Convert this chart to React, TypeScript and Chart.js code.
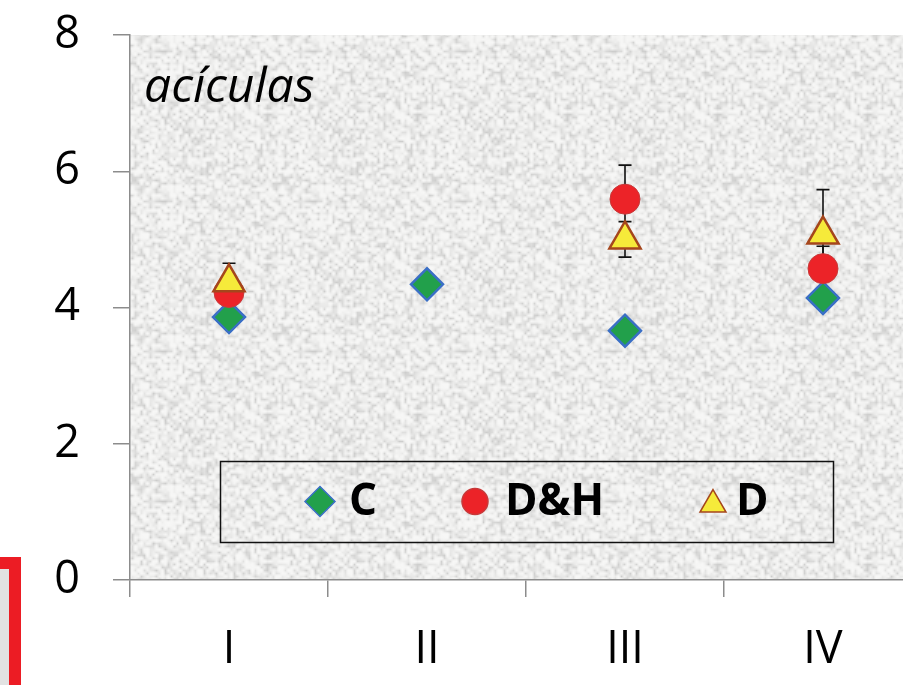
import React, { useEffect, useRef } from 'react';
import { Chart, registerables } from 'chart.js';
import { drawPoint } from 'chart.js/helpers';

Chart.register(...registerables);

const categories = ['I', 'II', 'III', 'IV'];
const yTicks = [0, 2, 4, 6, 8];
const seriesLabels = ['C', 'D&H', 'D'];
const valuesC = [3.86, 4.34, 3.66, 4.14];
const valuesDH = [4.22, null, 5.59, 4.57];
const valuesD = [4.37, null, 5.0, 5.07];
const errorsC = [0, 0, 0, 0];
const errorsDH = [0, 0, 0.5, 0.33];
const errorsD = [0.28, 0, 0.26, 0.66];
const panelLabel = 'acículas';

const FONT = '"Open Sans", "DejaVu Sans", sans-serif';

function hash(x: number, y: number): number {
  const s = Math.sin(x * 12.9898 + y * 78.233) * 43758.5453;
  return s - Math.floor(s);
}

function makeTexture(): HTMLCanvasElement {
  const N = 150;
  const cell = 3;
  const c = document.createElement('canvas');
  c.width = N;
  c.height = N;
  const g = c.getContext('2d')!;
  const img = g.createImageData(N, N);
  const G = N / cell;
  for (let y = 0; y < N; y++) {
    for (let x = 0; x < N; x++) {
      const gx = x / cell, gy = y / cell;
      const x0 = Math.floor(gx), y0 = Math.floor(gy);
      const fx = gx - x0, fy = gy - y0;
      const a = hash(x0 % G, y0 % G), b = hash((x0 + 1) % G, y0 % G);
      const c2 = hash(x0 % G, (y0 + 1) % G), d = hash((x0 + 1) % G, (y0 + 1) % G);
      const n = (a * (1 - fx) + b * fx) * (1 - fy) + (c2 * (1 - fx) + d * fx) * fy;
      const v = Math.round(247 - n * n * 42);
      const i = (y * N + x) * 4;
      img.data[i] = v;
      img.data[i + 1] = v;
      img.data[i + 2] = v - 1;
      img.data[i + 3] = 255;
    }
  }
  g.putImageData(img, 0, 0);
  return c;
}

const bgPlugin = {
  id: 'plotBg',
  beforeDraw(chart: any) {
    const { ctx, chartArea: a } = chart;
    ctx.save();
    const pat = ctx.createPattern(makeTexture(), 'repeat');
    ctx.fillStyle = pat || '#e9e9e9';
    ctx.fillRect(a.left, a.top, a.right - a.left, a.bottom - a.top);
    ctx.restore();
  },
};

const errorBarPlugin = {
  id: 'errorBars',
  beforeDatasetsDraw(chart: any) {
    const { ctx } = chart;
    const y = chart.scales.y;
    ctx.save();
    ctx.strokeStyle = '#111';
    ctx.lineWidth = 1.6;
    chart.data.datasets.forEach((ds: any, di: number) => {
      const meta = chart.getDatasetMeta(di);
      ds.data.forEach((v: number | null, i: number) => {
        const e = ds.errors ? ds.errors[i] : 0;
        if (v == null || !e) return;
        const px = meta.data[i].x;
        const yt = y.getPixelForValue(v + e);
        const yb = y.getPixelForValue(v - e);
        ctx.beginPath();
        ctx.moveTo(px, yt);
        ctx.lineTo(px, yb);
        ctx.moveTo(px - 6.5, yt);
        ctx.lineTo(px + 6.5, yt);
        ctx.moveTo(px - 6.5, yb);
        ctx.lineTo(px + 6.5, yb);
        ctx.stroke();
      });
    });
    ctx.restore();
  },
};

const panelLabelPlugin = {
  id: 'panelLabel',
  beforeDatasetsDraw(chart: any) {
    const { ctx, chartArea: a } = chart;
    ctx.save();
    ctx.fillStyle = '#000';
    ctx.font = `italic 48px ${FONT}`;
    ctx.textBaseline = 'alphabetic';
    ctx.textAlign = 'left';
    ctx.fillText(panelLabel, a.left + 14, a.top + 67);
    ctx.restore();
  },
};

const legendPlugin = {
  id: 'boxLegend',
  afterDraw(chart: any) {
    const { ctx, chartArea: a } = chart;
    const bx = a.left + 90, by = a.top + 426, bw = 613, bh = 81;
    ctx.save();
    ctx.strokeStyle = '#111';
    ctx.lineWidth = 1.5;
    ctx.strokeRect(bx + 0.5, by + 0.5, bw, bh);
    const markerX = [100, 255, 493];
    const textX = [129, 285, 516];
    const radii = [15, 13, 15];
    const cy = by + bh / 2;
    chart.data.datasets.forEach((ds: any, i: number) => {
      ctx.fillStyle = ds.pointBackgroundColor;
      ctx.strokeStyle = ds.pointBorderColor;
      const my = ds.pointStyle === 'triangle' ? cy + 3 : cy;
      drawPoint(ctx, { pointStyle: ds.pointStyle, rotation: 0, radius: radii[i], borderWidth: ds.pointBorderWidth > 1 ? 2 : 1 }, bx + markerX[i], my);
      ctx.fillStyle = '#000';
      ctx.font = `bold 44px ${FONT}`;
      ctx.textBaseline = 'middle';
      ctx.textAlign = 'left';
      ctx.fillText(ds.label, bx + textX[i], cy + 1);
    });
    ctx.restore();
  },
};

export default function App() {
  const ref = useRef<HTMLCanvasElement>(null);

  useEffect(() => {
    document.body.style.margin = '0';
    document.body.style.overflow = 'hidden';
    const chart = new Chart(ref.current!, {
      type: 'line',
      data: {
        labels: categories,
        datasets: [
          {
            label: seriesLabels[0],
            data: valuesC,
            errors: errorsC,
            showLine: false,
            pointStyle: 'rectRot',
            pointRadius: 16,
            pointBackgroundColor: '#22a04b',
            pointBorderColor: '#3a6fc6',
            pointBorderWidth: 2.5,
            order: 3,
          } as any,
          {
            label: seriesLabels[1],
            data: valuesDH,
            errors: errorsDH,
            showLine: false,
            pointStyle: 'circle',
            pointRadius: 15,
            pointBackgroundColor: '#ec2328',
            pointBorderColor: '#c73a3a',
            pointBorderWidth: 1,
            order: 2,
          } as any,
          {
            label: seriesLabels[2],
            data: valuesD,
            errors: errorsD,
            showLine: false,
            pointStyle: 'triangle',
            pointRadius: 18,
            pointBackgroundColor: '#f6ea3a',
            pointBorderColor: '#a5461c',
            pointBorderWidth: 2.5,
            order: 1,
          } as any,
        ],
      },
      options: {
        responsive: false,
        animation: false,
        layout: { autoPadding: false, padding: { top: 35, right: 13, left: 0, bottom: 0 } },
        plugins: { legend: { display: false }, tooltip: { enabled: false } },
        scales: {
          x: {
            type: 'category',
            offset: true,
            grid: {
              display: true,
              offset: true,
              drawOnChartArea: false,
              drawTicks: true,
              tickLength: 17,
              color: '#8c8c8c',
              lineWidth: 1.5,
            },
            border: { display: true, color: '#8c8c8c', width: 1.5 },
            ticks: { font: { family: FONT, size: 45 }, color: '#000', padding: 26, maxRotation: 0 },
            afterFit: (s: any) => { s.height = 105; s.paddingLeft = 0; s.paddingRight = 0; },
          },
          y: {
            min: 0,
            max: 8,
            afterBuildTicks: (s: any) => { s.ticks = yTicks.map((v) => ({ value: v })); },
            grid: {
              display: true,
              drawOnChartArea: false,
              drawTicks: true,
              tickLength: 17,
              color: '#8c8c8c',
              lineWidth: 1.5,
            },
            border: { display: true, color: '#8c8c8c', width: 1.5 },
            ticks: { font: { family: FONT, size: 45 }, color: '#000', padding: 33 },
            afterFit: (s: any) => { s.width = 130; s.paddingTop = 0; s.paddingBottom = 0; },
          },
        },
      } as any,
      plugins: [bgPlugin, errorBarPlugin, panelLabelPlugin, legendPlugin],
    });
    return () => chart.destroy();
  }, []);

  return (
    <div style={{ position: 'fixed', left: 0, top: 0, width: 903, height: 685, overflow: 'hidden', background: '#fff' }}>
      <canvas ref={ref} width={935} height={685} style={{ display: 'block', width: 935, height: 685 }} />
      <div
        style={{
          position: 'absolute',
          left: -30,
          top: 557,
          width: 51,
          height: 200,
          border: '12px solid #ec1c24',
          boxSizing: 'border-box',
          background: '#e2e2e2',
        }}
      />
    </div>
  );
}
